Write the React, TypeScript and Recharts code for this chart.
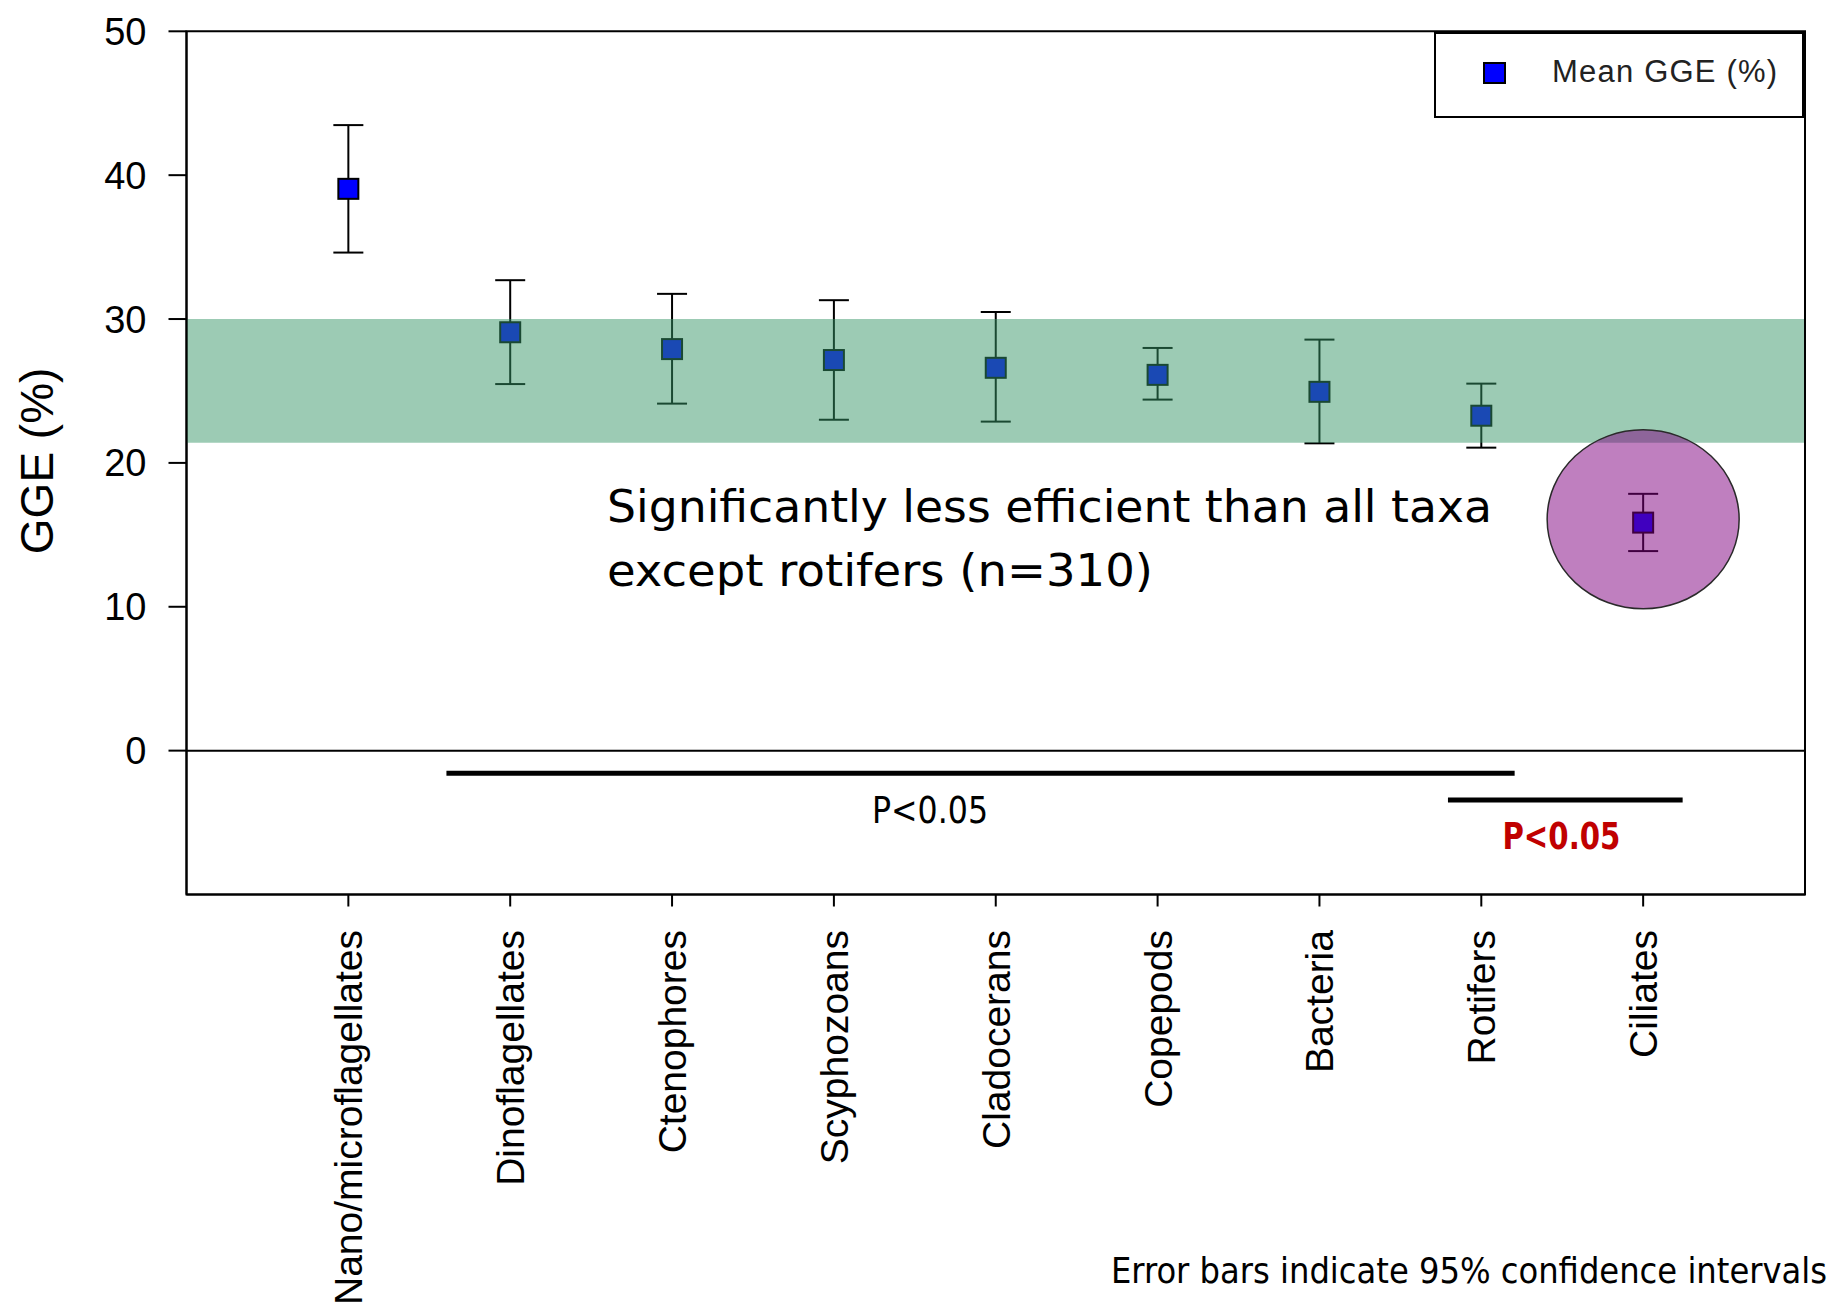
import React from 'react';
import {
  ScatterChart,
  Scatter,
  XAxis,
  YAxis,
  ErrorBar,
  ReferenceArea,
  ReferenceLine,
  ReferenceDot,
  Legend,
  Label,
} from 'recharts';

// ---------- data ----------
const categories = [
  'Nano/microflagellates',
  'Dinoflagellates',
  'Ctenophores',
  'Scyphozoans',
  'Cladocerans',
  'Copepods',
  'Bacteria',
  'Rotifers',
  'Ciliates',
];
const positions = [1, 2, 3, 4, 5, 6, 7, 8, 9];
const means = [39.05, 29.08, 27.91, 27.15, 26.61, 26.12, 24.94, 23.28, 15.85];
const ciLow = [34.62, 25.48, 24.12, 23.0, 22.87, 24.4, 21.36, 21.06, 13.87];
const ciHigh = [43.48, 32.7, 31.75, 31.31, 30.49, 27.99, 28.57, 25.51, 17.85];
const yTicks = [0, 10, 20, 30, 40, 50];
const xTicks = positions;
const bandRange = [21.4, 30];
const highlight = { x: 9, y: 16.08 };
const sigBars = [
  { x1: 1.606, x2: 8.206, y: -1.57 },
  { x1: 7.794, x2: 9.244, y: -3.43 },
];
const sigLabels = [
  { x: 4.594, y: -5.0, text: 'P<0.05', color: '#000000', bold: false, len: 116 },
  { x: 8.495, y: -6.84, text: 'P<0.05', color: '#C00000', bold: true, len: 118 },
];
const noteLines = [
  { x: 2.598, y: 15.9, text: 'Significantly less efficient than all taxa', len: 885 },
  { x: 2.598, y: 11.45, text: 'except rotifers (n=310)', len: 546 },
];
const seriesName = 'Mean GGE (%)';
const yAxisTitle = 'GGE (%)';
const footNote = 'Error bars indicate 95% confidence intervals';

const data = categories.map((name, i) => ({
  name,
  idx: positions[i],
  mean: means[i],
  err: [means[i] - ciLow[i], ciHigh[i] - means[i]],
}));

// ---------- render helpers ----------
const XTick = (props: any) => {
  const { x, y, payload } = props;
  return (
    <text
      x={x}
      y={y}
      dy={14}
      transform={`rotate(-90, ${x}, ${y})`}
      textAnchor="end"
      fontSize={39}
      fontFamily="'Liberation Sans', Arial, sans-serif"
      fill="#000"
    >
      {categories[payload.value - 1]}
    </text>
  );
};

const SquareMarker = (props: any) => {
  const { cx, cy } = props;
  return (
    <rect x={cx - 10} y={cy - 10} width={20} height={20} fill="#0000FF" stroke="#000" strokeWidth={2} />
  );
};

const LegendBox = (props: any) => {
  const payload = props.payload || [];
  return (
    <div
      style={{
        position: 'relative',
        width: 371,
        height: 86,
        boxSizing: 'border-box',
        borderTop: '2px solid #000',
        borderLeft: '2px solid #000',
        borderBottom: '2px solid #000',
        borderRight: '3px solid #000',
        background: '#fff',
      }}
    >
      {payload.map((p: any, i: number) => (
        <React.Fragment key={i}>
          <div
            style={{
              position: 'absolute',
              left: 47,
              top: 28,
              width: 23,
              height: 22,
              boxSizing: 'border-box',
              background: '#0000FF',
              border: '2px solid #000',
            }}
          />
          <span
            style={{
              position: 'absolute',
              left: 116,
              top: 22,
              fontFamily: "'Liberation Sans', Arial, sans-serif",
              fontSize: 31,
              lineHeight: '31px',
              letterSpacing: 1.2,
              color: '#222',
              whiteSpace: 'nowrap',
            }}
          >
            {p.value}
          </span>
        </React.Fragment>
      ))}
    </div>
  );
};

export default function App() {
  return (
    <ScatterChart
      width={1835}
      height={1296}
      margin={{ top: 23.3, right: 38, bottom: 0, left: 0 }}
    >
      <XAxis
        type="number"
        dataKey="idx"
        domain={[0, 10]}
        ticks={xTicks}
        interval={0}
        height={409.5}
        tickSize={12}
        tickMargin={23.5}
        tick={<XTick />}
        axisLine={{ stroke: '#000', strokeWidth: 2 }}
        tickLine={{ stroke: '#000', strokeWidth: 2 }}
      >
        <Label
          content={(p: any) => {
            const vb = p.viewBox || { x: 178.5, y: 886.5, width: 1618.5 };
            return (
              <text
                x={vb.x + vb.width + 22}
                y={vb.y + 388.5}
                textAnchor="end"
                fontSize={36}
                fontFamily="'DejaVu Sans Condensed', 'DejaVu Sans', sans-serif"
                fontStretch="condensed"
                textLength={716}
                lengthAdjust="spacingAndGlyphs"
                fill="#000"
              >
                {footNote}
              </text>
            );
          }}
        />
      </XAxis>
      <YAxis
        type="number"
        dataKey="mean"
        domain={[-10, 50]}
        ticks={yTicks}
        interval={0}
        width={178.5}
        tickSize={18}
        tickMargin={22}
        tick={{ fill: '#000', fontSize: 38, fontFamily: "'Liberation Sans', Arial, sans-serif" }}
        axisLine={{ stroke: '#000', strokeWidth: 2 }}
        tickLine={{ stroke: '#000', strokeWidth: 2 }}
      >
        <Label
          content={(p: any) => {
            const vb = p.viewBox || { x: 0, y: 23.3, width: 178.5, height: 863.2 };
            const cx = vb.x + 45;
            const cy = vb.y + vb.height / 2 - 2;
            return (
              <text
                x={cx}
                y={cy}
                transform={`rotate(-90, ${cx}, ${cy})`}
                textAnchor="middle"
                fontSize={46}
                fontFamily="'Liberation Sans', Arial, sans-serif"
                fill="#000"
              >
                {yAxisTitle}
              </text>
            );
          }}
        />
      </YAxis>

      <ReferenceLine y={0} stroke="#000" strokeWidth={2} />

      <Scatter
        name={seriesName}
        data={data}
        dataKey="mean"
        shape={<SquareMarker />}
        isAnimationActive={false}
      >
        <ErrorBar dataKey="err" direction="y" width={15} stroke="#000" strokeWidth={2} isAnimationActive={false} />
      </Scatter>

      <ReferenceArea
        y1={bandRange[0]}
        y2={bandRange[1]}
        fill="rgb(53,149,102)"
        fillOpacity={0.49}
        stroke="none"
        zIndex={1500}
      />
      <ReferenceDot
        x={highlight.x}
        y={highlight.y}
        r={1}
        zIndex={1600}
        shape={(p: any) => (
          <ellipse
            cx={p.cx}
            cy={p.cy}
            rx={96}
            ry={89.5}
            fill="rgb(128,0,128)"
            fillOpacity={0.5}
            stroke="#2a2a2a"
            strokeWidth={1.5}
          />
        )}
      />

      {sigBars.map((b, i) => (
        <ReferenceLine
          key={`sb${i}`}
          segment={[
            { x: b.x1, y: b.y },
            { x: b.x2, y: b.y },
          ]}
          stroke="#000"
          strokeWidth={5}
        />
      ))}
      {sigLabels.map((s, i) => (
        <ReferenceDot
          key={`sl${i}`}
          x={s.x}
          y={s.y}
          r={1}
          zIndex={1700}
          shape={(p: any) => (
            <text
              x={p.cx}
              y={p.cy}
              textAnchor="middle"
              fontSize={37}
              fontWeight={s.bold ? 'bold' : 'normal'}
              fontFamily="'DejaVu Sans', Verdana, sans-serif"
              textLength={s.len}
              lengthAdjust="spacingAndGlyphs"
              fill={s.color}
            >
              {s.text}
            </text>
          )}
        />
      ))}
      {noteLines.map((n, i) => (
        <ReferenceDot
          key={`nl${i}`}
          x={n.x}
          y={n.y}
          r={1}
          zIndex={1700}
          shape={(p: any) => (
            <text
              x={p.cx}
              y={p.cy}
              textAnchor="start"
              fontSize={45}
              fontFamily="'DejaVu Sans', Verdana, sans-serif"
              textLength={n.len}
              lengthAdjust="spacingAndGlyphs"
              fill="#000"
            >
              {n.text}
            </text>
          )}
        />
      ))}

      <ReferenceArea
        x1={0}
        x2={10}
        y1={-10}
        y2={50}
        fill="none"
        fillOpacity={0}
        stroke="#000"
        strokeWidth={2}
        zIndex={1800}
      />

      <Legend
        layout="horizontal"
        verticalAlign="middle"
        align="center"
        wrapperStyle={{ position: 'absolute', left: 1426, top: 23.5, width: 371, height: 86, margin: 0 }}
        content={<LegendBox />}
      />
    </ScatterChart>
  );
}
